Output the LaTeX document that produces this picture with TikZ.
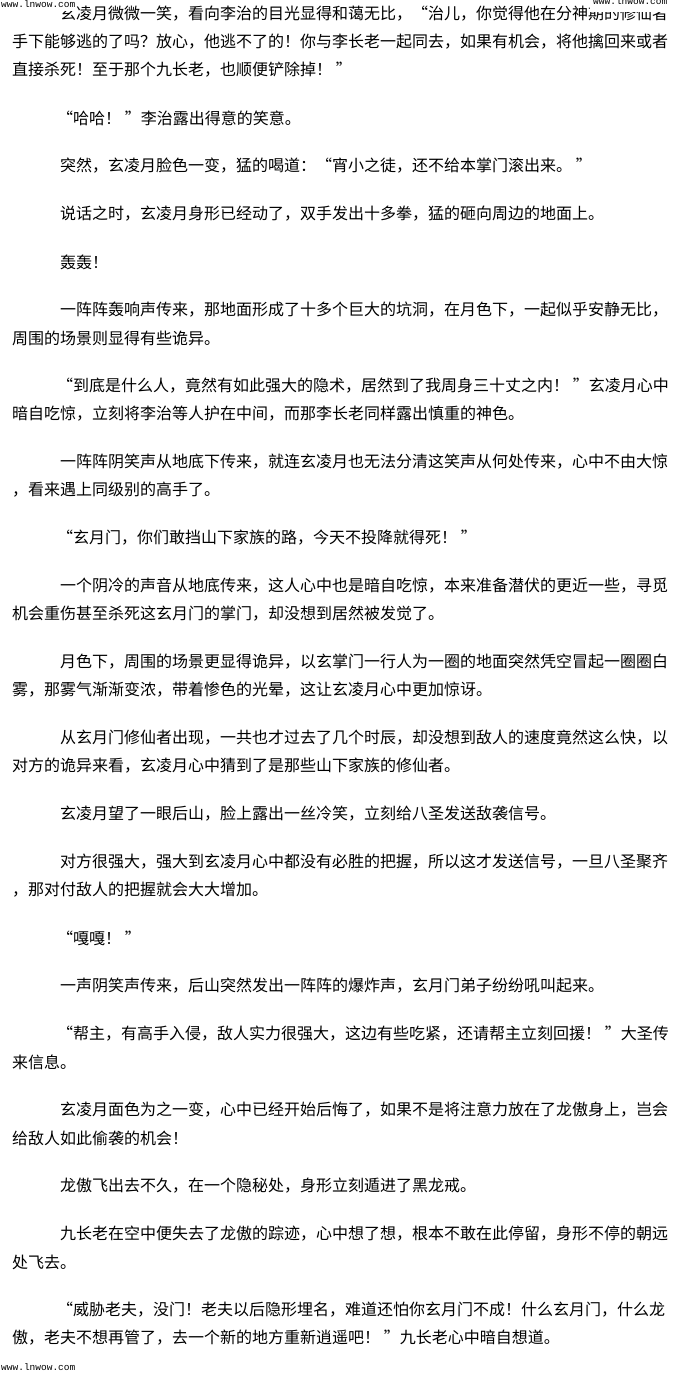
\documentclass[tikz,border=0pt]{standalone}
\usepackage{fontspec}
\newfontfamily\cjk{Noto Sans CJK SC}
\newfontfamily\wmfont{Liberation Mono}
\begin{document}
\begin{tikzpicture}[x=1pt,y=-1pt,
  txt/.style={anchor=west, inner sep=0pt, font=\cjk\fontsize{16}{16}\selectfont},
  wmark/.style={inner sep=1pt, fill=white, font=\wmfont\fontsize{9.5}{9.5}\selectfont}]
\useasboundingbox (0,0) rectangle (680,1375);
\clip (0,0) rectangle (680,1375);
\fill[white] (0,0) rectangle (680,1375);
% paragraph 1
\node[txt] (r1) at (60,14) {玄凌月微微一笑，看向李治的目光显得和蔼无比，“治儿，你觉得他在分神期的修仙者};
\node[txt] (r2) at (12,42) {手下能够逃的了吗？放心，他逃不了的！你与李长老一起同去，如果有机会，将他擒回来或者};
\node[txt] (r3) at (12,70) {直接杀死！至于那个九长老，也顺便铲除掉！ ”};
\node[txt] (r4) at (57,118) {“哈哈！ ”李治露出得意的笑意。};
\node[txt] (r5) at (60,166) {突然，玄凌月脸色一变，猛的喝道：“宵小之徒，还不给本掌门滚出来。 ”};
\node[txt] (r6) at (60,214) {说话之时，玄凌月身形已经动了，双手发出十多拳，猛的砸向周边的地面上。};
\node[txt] (r7) at (60,262) {轰轰！};
\node[txt] (r8) at (60,310) {一阵阵轰响声传来，那地面形成了十多个巨大的坑洞，在月色下，一起似乎安静无比，};
\node[txt] (r9) at (12,338) {周围的场景则显得有些诡异。};
\node[txt] (r10) at (57,386) {“到底是什么人，竟然有如此强大的隐术，居然到了我周身三十丈之内！ ”玄凌月心中};
\node[txt] (r11) at (12,414) {暗自吃惊，立刻将李治等人护在中间，而那李长老同样露出慎重的神色。};
\node[txt] (r12) at (60,462) {一阵阵阴笑声从地底下传来，就连玄凌月也无法分清这笑声从何处传来，心中不由大惊};
\node[txt] (r13) at (12,490) {，看来遇上同级别的高手了。};
\node[txt] (r14) at (57,538) {“玄月门，你们敢挡山下家族的路，今天不投降就得死！ ”};
\node[txt] (r15) at (60,586) {一个阴冷的声音从地底传来，这人心中也是暗自吃惊，本来准备潜伏的更近一些，寻觅};
\node[txt] (r16) at (12,614) {机会重伤甚至杀死这玄月门的掌门，却没想到居然被发觉了。};
\node[txt] (r17) at (60,662) {月色下，周围的场景更显得诡异，以玄掌门一行人为一圈的地面突然凭空冒起一圈圈白};
\node[txt] (r18) at (12,690) {雾，那雾气渐渐变浓，带着惨色的光晕，这让玄凌月心中更加惊讶。};
\node[txt] (r19) at (60,738) {从玄月门修仙者出现，一共也才过去了几个时辰，却没想到敌人的速度竟然这么快，以};
\node[txt] (r20) at (12,766) {对方的诡异来看，玄凌月心中猜到了是那些山下家族的修仙者。};
\node[txt] (r21) at (60,814) {玄凌月望了一眼后山，脸上露出一丝冷笑，立刻给八圣发送敌袭信号。};
\node[txt] (r22) at (60,862) {对方很强大，强大到玄凌月心中都没有必胜的把握，所以这才发送信号，一旦八圣聚齐};
\node[txt] (r23) at (12,890) {，那对付敌人的把握就会大大增加。};
\node[txt] (r24) at (57,938) {“嘎嘎！ ”};
\node[txt] (r25) at (60,986) {一声阴笑声传来，后山突然发出一阵阵的爆炸声，玄月门弟子纷纷吼叫起来。};
\node[txt] (r26) at (57,1034) {“帮主，有高手入侵，敌人实力很强大，这边有些吃紧，还请帮主立刻回援！ ”大圣传};
\node[txt] (r27) at (12,1062) {来信息。};
\node[txt] (r28) at (60,1110) {玄凌月面色为之一变，心中已经开始后悔了，如果不是将注意力放在了龙傲身上，岂会};
\node[txt] (r29) at (12,1138) {给敌人如此偷袭的机会！};
\node[txt] (r30) at (60,1186) {龙傲飞出去不久，在一个隐秘处，身形立刻遁进了黑龙戒。};
\node[txt] (r31) at (60,1234) {九长老在空中便失去了龙傲的踪迹，心中想了想，根本不敢在此停留，身形不停的朝远};
\node[txt] (r32) at (12,1262) {处飞去。};
\node[txt] (r33) at (57,1310) {“威胁老夫，没门！老夫以后隐形埋名，难道还怕你玄月门不成！什么玄月门，什么龙};
\node[txt] (r34) at (12,1338) {傲，老夫不想再管了，去一个新的地方重新逍遥吧！ ”九长老心中暗自想道。};
% watermarks (white boxes that cover part of the first line)
\node[wmark, anchor=base west, text depth=2pt] (w1) at (0,8) {www.lnwow.com};
\node[wmark, anchor=base west, text depth=6pt, inner xsep=3pt] (w2) at (590,5) {www.lnwow.com};
\node[wmark, anchor=west] (w3) at (0,1367) {www.lnwow.com};
\end{tikzpicture}
\end{document}
